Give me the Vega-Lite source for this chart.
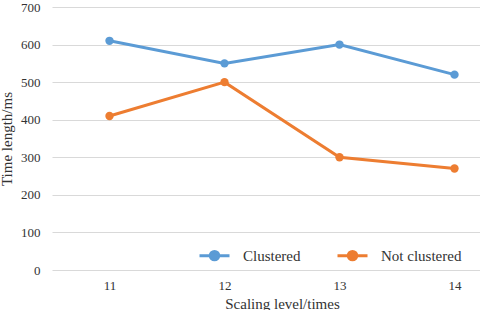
{
  "$schema": "https://vega.github.io/schema/vega-lite/v6.json",
  "width": 460,
  "height": 263,
  "autosize": {"type": "none"},
  "padding": {"left": 52, "top": 7, "right": 0, "bottom": 40},
  "background": "white",
  "config": {
    "font": "Liberation Serif",
    "axis": {"labelFont": "Liberation Serif", "titleFont": "Liberation Serif"},
    "legend": {"labelFont": "Liberation Serif", "titleFont": "Liberation Serif"},
    "view": {"stroke": null}
  },
  "data": {
    "values": [
      {"level": "11", "series": "Clustered", "time": 610},
      {"level": "12", "series": "Clustered", "time": 550},
      {"level": "13", "series": "Clustered", "time": 600},
      {"level": "14", "series": "Clustered", "time": 520},
      {"level": "11", "series": "Not clustered", "time": 410},
      {"level": "12", "series": "Not clustered", "time": 500},
      {"level": "13", "series": "Not clustered", "time": 300},
      {"level": "14", "series": "Not clustered", "time": 270}
    ]
  },
  "mark": {"type": "line", "strokeWidth": 3, "point": {"size": 70, "filled": true, "opacity": 1}},
  "encoding": {
    "x": {
      "field": "level", "type": "ordinal",
      "scale": {"type": "point", "padding": 0.5},
      "axis": {
        "title": "Scaling level/times", "titleFont": "Liberation Serif", "titleFontSize": 15, "titleFontWeight": "normal", "titleColor": "#333", "titlePadding": 4,
        "labelAngle": 0, "labelFont": "Liberation Serif", "labelFontSize": 13, "labelColor": "#333", "labelPadding": 9,
        "ticks": false, "domain": false, "grid": false
      }
    },
    "y": {
      "field": "time", "type": "quantitative",
      "scale": {"domain": [0, 700]},
      "axis": {
        "title": "Time length/ms", "titleFont": "Liberation Serif", "titleFontSize": 15, "titleFontWeight": "normal", "titleColor": "#333", "titlePadding": 6,
        "values": [0, 100, 200, 300, 400, 500, 600, 700],
        "labelFont": "Liberation Serif", "labelFontSize": 13, "labelColor": "#333", "labelPadding": 12,
        "ticks": false, "domain": false, "grid": true, "gridColor": "#d9d9d9", "gridWidth": 1
      }
    },
    "color": {
      "field": "series", "type": "nominal",
      "scale": {"domain": ["Clustered", "Not clustered"], "range": ["#5b9bd5", "#ed7d31"]},
      "legend": {
        "title": null, "orient": "none", "direction": "horizontal",
        "legendX": 146, "legendY": 232,
        "symbolType": "M-1,0H1M-0.28,0a0.28,0.28 0 1,0 0.56,0a0.28,0.28 0 1,0 -0.56,0",
        "symbolSize": 900, "symbolStrokeWidth": 3,
        "labelFont": "Liberation Serif", "labelFontSize": 15, "labelColor": "#333", "labelOffset": 12,
        "columnPadding": 30
      }
    }
  }
}
